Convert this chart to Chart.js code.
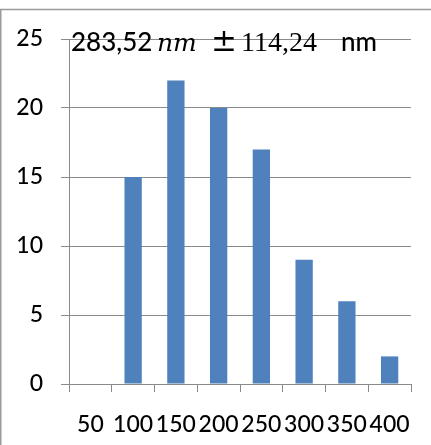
<!DOCTYPE html>
<html>
<head>
<meta charset="utf-8">
<style>
  html, body { margin: 0; padding: 0; background: #fff; }
  #wrap { width: 431px; height: 445px; position: relative; }
</style>
<script src="https://cdn.jsdelivr.net/npm/chart.js@4/dist/chart.umd.min.js"></script>
</head>
<body>
<div id="wrap"><canvas id="c" width="431" height="445"></canvas></div>
<script>
// Particle size histogram (bins in nm) and counts per bin
const binLabels = ['50', '100', '150', '200', '250', '300', '350', '400'];
const counts = [0, 15, 22, 20, 17, 9, 6, 2];
const yMin = 0;
const yMax = 25;
const yStep = 5;

// Mean ± standard deviation caption, drawn in mixed fonts
const captionParts = [
  { text: '283,52', font: '500 26px Lato', x: 71 },
  { text: 'nm', font: 'italic 25px "DejaVu Serif"', x: 157 },
  { text: '±', font: '31px "DejaVu Serif"', x: 211 },
  { text: '114,24', font: '28px "Liberation Serif"', x: 241 },
  { text: 'nm', font: '500 26px Lato', x: 341 }
];

const gridGray = '#8a8a8a';
const labelFont = { family: 'Lato', size: 23, weight: '500' };

const framePlugin = {
  id: 'frame',
  beforeDraw(chart) {
    const ctx = chart.ctx;
    ctx.save();
    ctx.strokeStyle = '#9a9a9a';
    ctx.lineWidth = 1.5;
    ctx.beginPath();
    ctx.moveTo(0, 9.5);
    ctx.lineTo(chart.width, 9.5);
    ctx.moveTo(0.75, 9.5);
    ctx.lineTo(0.75, chart.height);
    ctx.stroke();
    ctx.restore();
  }
};

const captionPlugin = {
  id: 'caption',
  afterDraw(chart) {
    const ctx = chart.ctx;
    ctx.save();
    ctx.fillStyle = '#000';
    ctx.textBaseline = 'alphabetic';
    ctx.textAlign = 'left';
    captionParts.forEach(p => {
      ctx.font = p.font;
      ctx.fillText(p.text, p.x, 51);
    });
    ctx.restore();
  }
};

new Chart(document.getElementById('c'), {
  type: 'bar',
  data: {
    labels: binLabels,
    datasets: [{
      data: counts,
      backgroundColor: '#4f81bd',
      borderWidth: 0,
      categoryPercentage: 1,
      barPercentage: 0.405
    }]
  },
  options: {
    responsive: false,
    animation: false,
    layout: { padding: { top: 39, right: 20, left: 0, bottom: 0 } },
    plugins: {
      legend: { display: false },
      tooltip: { enabled: false }
    },
    scales: {
      x: {
        afterFit(scale) { scale.height = 61; },
        grid: {
          display: true,
          drawOnChartArea: false,
          drawTicks: true,
          tickLength: 8,
          color: gridGray,
          lineWidth: 1
        },
        border: { display: true, color: gridGray, width: 1 },
        ticks: {
          color: '#000',
          font: labelFont,
          padding: 19,
          maxRotation: 0,
          autoSkip: false
        }
      },
      y: {
        min: yMin,
        max: yMax,
        afterFit(scale) { scale.width = 69; },
        grid: {
          color: gridGray,
          lineWidth: 1,
          tickLength: 8,
          drawTicks: true
        },
        border: { display: true, color: gridGray, width: 1 },
        ticks: {
          stepSize: yStep,
          color: '#000',
          font: labelFont,
          padding: 18
        }
      }
    }
  },
  plugins: [framePlugin, captionPlugin]
});
</script>
</body>
</html>
